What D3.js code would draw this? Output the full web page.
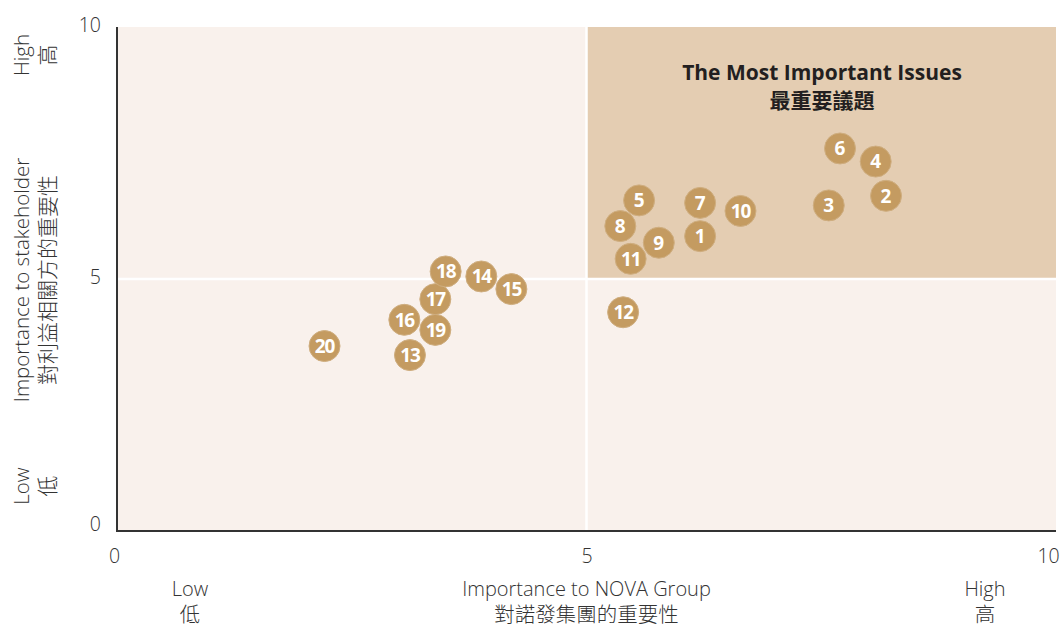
<!DOCTYPE html>
<html><head><meta charset="utf-8">
<script src="https://cdn.jsdelivr.net/npm/d3@7"></script>
<style>
body{margin:0;background:#fff;}
svg{display:block;}
</style></head><body>
<svg id="chart" width="1063" height="628"></svg>
<script>
const ids =   [1,2,3,4,5,6,7,8,9,10,11,12,13,14,15,16,17,18,19,20];
const xVals = [6.21,8.19,7.58,8.08,5.56,7.70,6.21,5.36,5.77,6.64,5.47,5.39,3.12,3.88,4.20,3.06,3.39,3.50,3.39,2.21];
const yVals = [5.85,6.65,6.46,7.33,6.56,7.59,6.51,6.05,5.72,6.35,5.40,4.34,3.49,5.05,4.80,4.19,4.60,5.15,3.99,3.67];
const xTicks = [0,5,10];
const yTicks = [0,5,10];
const xTitle = ["Importance to NOVA Group","對諾發集團的重要性"];
const yTitle = ["Importance to stakeholder","對利益相關方的重要性"];
const lowLabel = ["Low","低"];
const highLabel = ["High","高"];
const quadTitle = ["The Most Important Issues","最重要議題"];

const svg = d3.select("#chart");
const L=117, R=1056, T=27, B=531;
const x = d3.scaleLinear().domain([0,10]).range([L,R]);
const y = d3.scaleLinear().domain([0,10]).range([B,T]);
const lightFont = "'Open Sans','Noto Sans CJK TC',sans-serif";
const cjk = "'Noto Sans CJK TC',sans-serif";

// background
svg.append("rect").attr("x",x(0)).attr("y",y(10)).attr("width",x(10)-x(0)).attr("height",y(0)-y(10)).attr("fill","#f9f1ec");
svg.append("rect").attr("x",x(5)).attr("y",y(10)).attr("width",x(10)-x(5)).attr("height",y(5)-y(10)).attr("fill","#e4cdb2");
// divider lines
svg.append("line").attr("x1",x(5)).attr("x2",x(5)).attr("y1",y(10)).attr("y2",y(0)).attr("stroke","#fff").attr("stroke-width",2.5);
svg.append("line").attr("x1",x(0)).attr("x2",x(10)).attr("y1",y(5)).attr("y2",y(5)).attr("stroke","#fff").attr("stroke-width",2.5);

// axes lines
svg.append("line").attr("x1",x(0)).attr("x2",x(0)).attr("y1",y(10)).attr("y2",y(0)+1).attr("stroke","#333").attr("stroke-width",2);
svg.append("line").attr("x1",x(0)-1).attr("x2",x(10)).attr("y1",y(0)).attr("y2",y(0)).attr("stroke","#333").attr("stroke-width",2);

// tick labels
const xAxis = svg.append("g").attr("transform",`translate(0,${B})`)
  .call(d3.axisBottom(x).tickValues(xTicks).tickSize(0).tickPadding(18).tickFormat(d3.format("d")));
xAxis.select(".domain").remove();
xAxis.selectAll("text").attr("font-family",lightFont).attr("font-weight",300).attr("font-size",19.5).attr("fill","#333")
  .attr("dx",d=>d===0?-3:(d===10?-8:0));
const yAxis = svg.append("g").attr("transform",`translate(${L},0)`)
  .call(d3.axisLeft(y).tickValues(yTicks).tickSize(0).tickPadding(16).tickFormat(d3.format("d")));
yAxis.select(".domain").remove();
yAxis.selectAll("text").attr("font-family",lightFont).attr("font-weight",300).attr("font-size",19.5).attr("fill","#333")
  .attr("dy",d=>d===0?"-0.05em":"0.25em");

// x axis titles
function twoLine(g, lines, cx, y1, y2){
  g.append("text").attr("x",cx).attr("y",y1).attr("text-anchor","middle").attr("font-family",lightFont).attr("font-weight",300).attr("font-size",20).attr("fill","#333").text(lines[0]);
  g.append("text").attr("x",cx).attr("y",y2).attr("text-anchor","middle").attr("font-family",cjk).attr("font-weight",300).attr("font-size",20.5).attr("fill","#333").text(lines[1]);
}
twoLine(svg, xTitle, x(5), 596, 622);
twoLine(svg, lowLabel, 190, 596, 622);
twoLine(svg, highLabel, 985, 596, 622);

// y axis titles (rotated)
function twoLineRot(lines, cy){
  const g = svg.append("g").attr("transform",`translate(0,${cy}) rotate(-90)`);
  g.append("text").attr("x",0).attr("y",29).attr("text-anchor","middle").attr("font-family",lightFont).attr("font-weight",300).attr("font-size",20.5).attr("fill","#333").text(lines[0]);
  g.append("text").attr("x",0).attr("y",55).attr("text-anchor","middle").attr("font-family",cjk).attr("font-weight",300).attr("font-size",21).attr("fill","#333").text(lines[1]);
}
twoLineRot(yTitle, 280);
twoLineRot(highLabel, 55);
twoLineRot(lowLabel, 486);

// quadrant title
svg.append("text").attr("x",822).attr("y",80).attr("text-anchor","middle").attr("font-family","'Open Sans',sans-serif").attr("font-weight",700).attr("font-size",21).attr("fill","#231f20").text(quadTitle[0]);
svg.append("text").attr("x",822).attr("y",108).attr("text-anchor","middle").attr("font-family",cjk).attr("font-weight",700).attr("font-size",21).attr("fill","#231f20").text(quadTitle[1]);

// points
const data = ids.map((id,i)=>({id, x:xVals[i], y:yVals[i]}));
const pts = svg.append("g").selectAll("g").data(data).join("g")
  .attr("transform",d=>`translate(${x(d.x)},${y(d.y)})`);
pts.append("circle").attr("r",15.5).attr("fill","#c49b61").attr("stroke","#cfae80").attr("stroke-width",1);
pts.append("text").attr("text-anchor","middle").attr("dy","0.36em")
  .attr("font-family","'Open Sans',sans-serif").attr("font-weight",700).attr("font-size",19)
  .attr("letter-spacing",d=>d.id>=10?"-1.2px":"0").attr("fill","#fff").text(d=>d.id);
</script>
</body></html>
